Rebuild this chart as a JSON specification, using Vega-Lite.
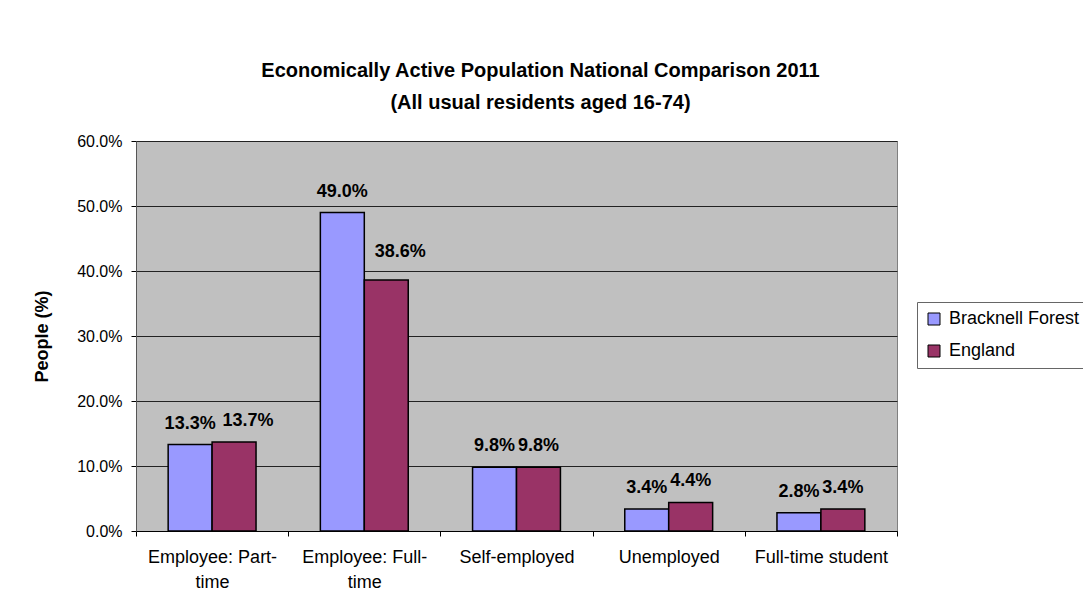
{
  "$schema": "https://vega.github.io/schema/vega-lite/v6.json",
  "autosize": {"type": "none"},
  "padding": {"left": 136, "top": 141, "right": 186, "bottom": 83},
  "width": 761,
  "height": 390,
  "background": "white",
  "title": {
    "text": ["Economically Active Population National Comparison 2011", "(All usual residents aged 16-74)"],
    "font": "Liberation Sans",
    "fontSize": 20,
    "fontWeight": "bold",
    "lineHeight": 32,
    "color": "black",
    "anchor": "middle",
    "frame": "group",
    "dx": 24,
    "offset": 20
  },
  "data": {
    "values": [
      {"category": "Employee: Part-time", "area": "Bracknell Forest", "value": 0.133},
      {"category": "Employee: Part-time", "area": "England", "value": 0.137},
      {"category": "Employee: Full-time", "area": "Bracknell Forest", "value": 0.490},
      {"category": "Employee: Full-time", "area": "England", "value": 0.386},
      {"category": "Self-employed", "area": "Bracknell Forest", "value": 0.098},
      {"category": "Self-employed", "area": "England", "value": 0.098},
      {"category": "Unemployed", "area": "Bracknell Forest", "value": 0.034},
      {"category": "Unemployed", "area": "England", "value": 0.044},
      {"category": "Full-time student", "area": "Bracknell Forest", "value": 0.028},
      {"category": "Full-time student", "area": "England", "value": 0.034}
    ]
  },
  "encoding": {
    "x": {
      "field": "category",
      "type": "nominal",
      "sort": null,
      "scale": {"paddingInner": 0, "paddingOuter": 0},
      "axis": {
        "title": null,
        "labelAngle": 0,
        "labelFont": "Liberation Sans",
        "labelFontSize": 18,
        "labelColor": "black",
        "labelLineHeight": 25,
        "labelBaseline": "top",
        "labelPadding": 12,
        "labelExpr": "datum.label == 'Employee: Part-time' ? ['Employee: Part-', 'time'] : datum.label == 'Employee: Full-time' ? ['Employee: Full-', 'time'] : datum.label",
        "tickBand": "extent",
        "tickSize": 5,
        "tickColor": "black",
        "domainColor": "black",
        "domainWidth": 1,
        "grid": false
      }
    },
    "xOffset": {
      "field": "area",
      "type": "nominal",
      "scale": {"paddingInner": 0, "paddingOuter": 0.732}
    },
    "y": {
      "field": "value",
      "type": "quantitative",
      "scale": {"domain": [0, 0.6], "nice": false},
      "axis": {
        "title": "People (%)",
        "titleFont": "Liberation Sans",
        "titleFontSize": 18,
        "titleFontWeight": "bold",
        "titleColor": "black",
        "titleX": -94,
        "titleY": 195,
        "titleAngle": 270,
        "titleAlign": "center",
        "titleBaseline": "middle",
        "format": ".1%",
        "values": [0, 0.1, 0.2, 0.3, 0.4, 0.5, 0.6],
        "labelFont": "Liberation Sans",
        "labelFontSize": 16,
        "labelColor": "black",
        "labelPadding": 9,
        "tickSize": 5,
        "tickColor": "black",
        "domainColor": "#555555",
        "grid": true,
        "gridColor": "#222222",
        "gridWidth": 1
      }
    }
  },
  "layer": [
    {
      "mark": {"type": "bar", "stroke": "black", "strokeWidth": 1.5},
      "encoding": {
        "color": {
          "field": "area",
          "type": "nominal",
          "scale": {"domain": ["Bracknell Forest", "England"], "range": ["#9999FF", "#993366"]},
          "legend": {
            "title": null,
            "orient": "none",
            "legendX": 781,
            "legendY": 161,
            "direction": "vertical",
            "symbolType": "square",
            "symbolSize": 144,
            "symbolStrokeColor": "black",
            "symbolStrokeWidth": 1,
            "labelFont": "Liberation Sans",
            "labelFontSize": 18,
            "labelColor": "black",
            "labelOffset": 6,
            "rowPadding": 14,
            "padding": 8,
            "strokeColor": "#666666",
            "fillColor": "white"
          }
        }
      }
    },
    {
      "transform": [{"filter": "!(datum.area == 'England' && (datum.category == 'Employee: Part-time' || datum.category == 'Employee: Full-time'))"}],
      "mark": {
        "type": "text",
        "font": "Liberation Sans",
        "fontSize": 18,
        "fontWeight": "bold",
        "color": "black",
        "baseline": "alphabetic",
        "dy": -16
      },
      "encoding": {
        "text": {"field": "value", "type": "quantitative", "format": ".1%"}
      }
    },
    {
      "transform": [{"filter": "datum.area == 'England' && datum.category == 'Employee: Part-time'"}],
      "mark": {
        "type": "text",
        "font": "Liberation Sans",
        "fontSize": 18,
        "fontWeight": "bold",
        "color": "black",
        "baseline": "alphabetic",
        "dx": 14,
        "dy": -16
      },
      "encoding": {
        "text": {"field": "value", "type": "quantitative", "format": ".1%"}
      }
    },
    {
      "transform": [{"filter": "datum.area == 'England' && datum.category == 'Employee: Full-time'"}],
      "mark": {
        "type": "text",
        "font": "Liberation Sans",
        "fontSize": 18,
        "fontWeight": "bold",
        "color": "black",
        "baseline": "alphabetic",
        "dx": 14,
        "dy": -23
      },
      "encoding": {
        "text": {"field": "value", "type": "quantitative", "format": ".1%"}
      }
    }
  ],
  "config": {
    "view": {"fill": "#C0C0C0", "stroke": "#808080", "strokeWidth": 1}
  }
}
